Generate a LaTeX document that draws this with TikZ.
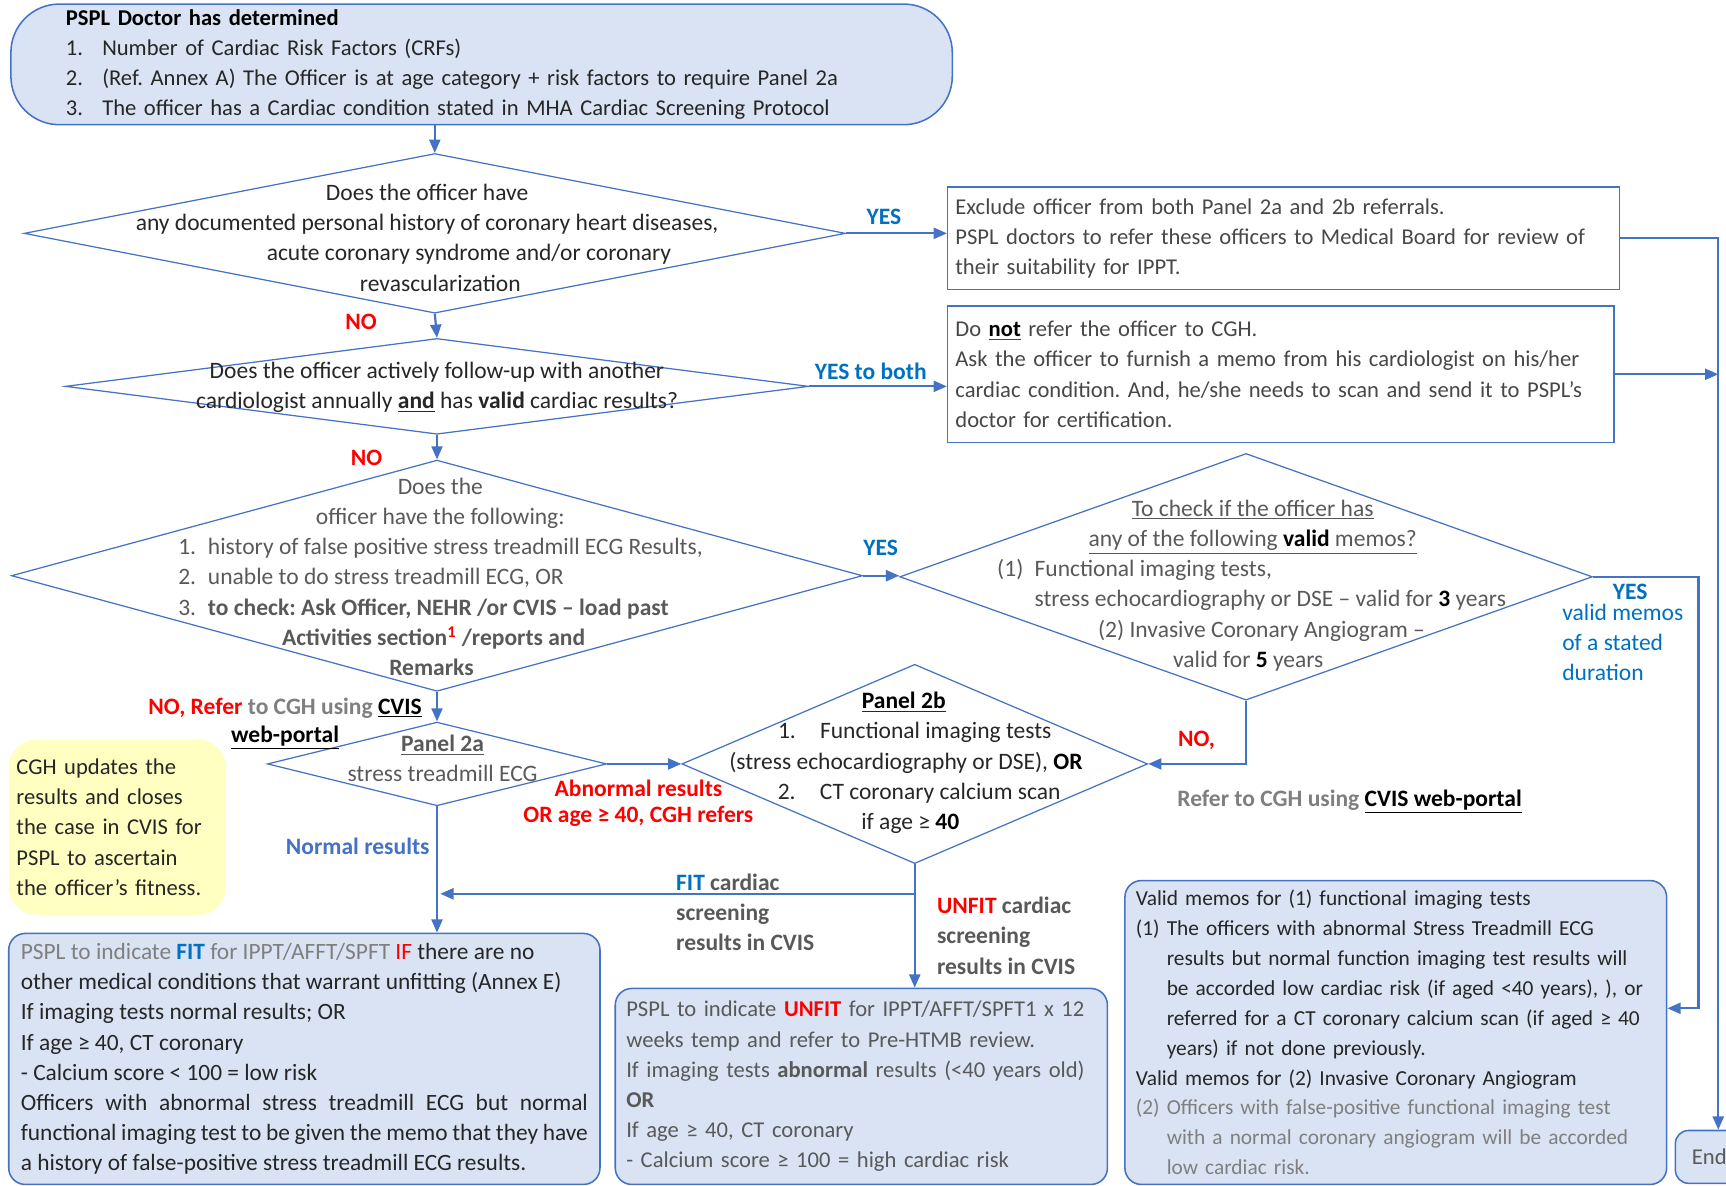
\documentclass[tikz,border=0pt]{standalone}
\usepackage{fontspec}
\setmainfont{Carlito}
\usetikzlibrary{arrows.meta,shapes.geometric,positioning}
\definecolor{flowblue}{HTML}{4472C4}
\definecolor{boxfill}{HTML}{DAE3F3}
\definecolor{notefill}{HTML}{FFFFC1}
\definecolor{yesblue}{HTML}{0070C0}
\definecolor{nored}{HTML}{FF0000}
\definecolor{txtdark}{HTML}{262626}
\definecolor{txtgray}{HTML}{595959}
\definecolor{txtlight}{HTML}{7F7F7F}
\newcommand\boxfont{\fontsize{14.6}{19.5}\selectfont}
\newcommand\memofont{\fontsize{13.8}{19.3}\selectfont}
\tikzset{
  flow/.style={draw=flowblue, line width=1.4pt, -{Triangle[length=0.3cm,width=0.25cm]}},
  dia/.style={draw=flowblue, line width=0.8pt, shape=diamond, inner sep=0pt},
  dtext/.style={inner sep=0pt, align=center},
  plainbox/.style={draw=flowblue, line width=1pt, align=left, text=txtdark, font=\boxfont},
  roundbox/.style={plainbox, fill=boxfill, rounded corners=0.375cm},
  notebox/.style={fill=notefill, rounded corners=0.625cm, align=left, text=txtdark, font=\boxfont},
  lbl/.style={inner sep=0pt, align=center},
}
\frenchspacing
\begin{document}
\begin{tikzpicture}[x=0.025cm, y=-0.025cm, font=\fontsize{15.2}{19.5}\selectfont]
	\useasboundingbox (0,0) rectangle (1568,1077);
	\clip (0,0) rectangle (1568,1077);
	\node[roundbox, rounded corners=1.1cm, minimum height=2.675cm, inner xsep=1.25cm, text width=18.875cm] (start) at (437.5,58.5) {\textbf{\color{black}PSPL Doctor has determined}\\
		\makebox[0.825cm][l]{1.}Number of Cardiac Risk Factors (CRFs)\\
		\makebox[0.825cm][l]{2.}(Ref. Annex A) The Officer is at age category + risk factors to require Panel 2a\\
		\makebox[0.825cm][l]{3.}The officer has a Cardiac condition stated in MHA Cardiac Screening Protocol};
	\node[dia, minimum width=18.65cm, minimum height=3.625cm] (d1) at (395,212) {};
	\node[dtext, text=txtdark] (d1text) at (388,216) {Does the officer have\\any documented personal history of coronary heart diseases,\\\hspace*{1.9cm}acute coronary syndrome and/or coronary\\\hspace*{0.6cm}revascularization};
	\node[plainbox, minimum height=2.325cm, inner xsep=0.175cm, text width=14.9cm, text=txtgray!80!black] (box1) at (1166,216.5) {Exclude officer from both Panel 2a and 2b referrals.\\
		PSPL doctors to refer these officers to Medical Board for review of\\
		their suitability for IPPT.};
	\node[dia, minimum width=16.875cm, minimum height=2.175cm] (d2) at (397,351) {};
	\node[dtext, text=txtdark] (d2text) at (397,352) {Does the officer actively follow-up with another\\cardiologist annually \underline{\textbf{and}} has \textbf{valid} cardiac results?};
	\node[plainbox, minimum height=3.1cm, inner xsep=0.175cm, text width=14.775cm, text=txtgray!80!black] (box2) at (1163.5,340) {Do \underline{\textbf{\color{black}not}} refer the officer to CGH.\\
		Ask the officer to furnish a memo from his cardiologist on his/her\\
		cardiac condition. And, he/she needs to scan and send it to PSPL's\\
		doctor for certification.};
	\node[dia, minimum width=19.325cm, minimum height=5.25cm] (d3) at (397,523) {};
	\node[dtext, text=txtgray] (d3text) at (400,524) {Does the\\officer have the following:\\
		\makebox[11.9cm][l]{\makebox[0.675cm][l]{1.}history of false positive stress treadmill ECG Results,}\\
		\makebox[11.9cm][l]{\makebox[0.675cm][l]{2.}unable to do stress treadmill ECG, OR}\\
		\makebox[11.9cm][l]{\makebox[0.675cm][l]{3.}\textbf{to check: Ask Officer, NEHR /or CVIS -- load past}}\\
		\hspace*{-0.3cm}\textbf{Activities section}\textsuperscript{\textbf{\color{nored}1}}\textbf{ /reports and}\\
		\hspace*{-0.4cm}\textbf{Remarks}};
	\node[dia, minimum width=15.725cm, minimum height=5.6cm] (d4) at (1132,524) {};
	\node[dtext, text=txtgray] (d4text) at (1138,532) {\underline{To check if the officer has}\\
		\underline{any of the following \textbf{\color{black}valid} memos?}\\
		\makebox[11.6cm][l]{\makebox[0.85cm][l]{(1)}Functional imaging tests,}\\
		\makebox[11.6cm][l]{\hspace{0.85cm}stress echocardiography or DSE -- valid for \textbf{\color{black}3} years}\\
		\hspace*{0.4cm}(2) Invasive Coronary Angiogram --\\
		\hspace*{-0.2cm}valid for \textbf{\color{black}5} years};
	\node[dia, minimum width=7.7cm, minimum height=1.9cm] (p2a) at (397,694) {};
	\node[dtext, text=txtgray] (p2atext) at (402,689) {\underline{\textbf{Panel 2a}}\\stress treadmill ECG};
	\node[dia, minimum width=10.575cm, minimum height=4.525cm] (d5) at (831,694) {};
	\node[dtext, text=txtdark] (d5text) at (823,693) {\hspace*{-0.1cm}\underline{\textbf{\color{black}Panel 2b}}\\
		\hspace*{0.4cm}1.\hspace{0.55cm}Functional imaging tests\\
		(stress echocardiography or DSE), \textbf{\color{black}OR}\\
		\hspace*{0.6cm}2.\hspace{0.55cm}CT coronary calcium scan\\
		\hspace*{0.2cm}if age ≥ \textbf{\color{black}40}};
	\node[notebox, minimum height=3.975cm, inner xsep=0.175cm, text width=4.575cm] (note) at (106.5,751.5) {CGH updates the\\results and closes\\the case in CVIS for\\PSPL to ascertain\\the officer’s fitness.};
	\node[roundbox, minimum height=5.7cm, inner xsep=0.275cm, text width=12.875cm, align=justify, font=\fontsize{15.1}{19.5}\selectfont] (fitbox) at (276.5,962) {{\color{txtlight}PSPL to indicate} \textbf{\color{yesblue}FIT} {\color{txtlight}for IPPT/AFFT/SPFT} {\color{nored}IF} there are no\\
		other medical conditions that warrant unfitting (Annex E)\\
		If imaging tests normal results; OR\\
		If age ≥ 40, CT coronary\\
		- Calcium score < 100 = low risk\\
		Officers with abnormal stress treadmill ECG but normal\linebreak
		functional imaging test to be given the memo that they have\linebreak
		a history of false-positive stress treadmill ECG results.};
	\node[roundbox, minimum height=4.45cm, inner xsep=0.25cm, text width=10.675cm, text=txtgray] (unfitbox) at (782.5,987) {PSPL to indicate \textbf{\color{nored}UNFIT} for IPPT/AFFT/SPFT1 x 12\\
		weeks temp and refer to Pre-HTMB review.\\
		If imaging tests \textbf{abnormal} results (<40 years old)\\
		\textbf{OR}\\
		If age ≥ 40, CT coronary\\
		- Calcium score ≥ 100 = high cardiac risk};
	\node[roundbox, minimum height=6.9cm, inner xsep=0.25cm, text width=11.8cm, font=\memofont] (memos) at (1268,938) {Valid memos for (1) functional imaging tests\\
		(1) The officers with abnormal Stress Treadmill ECG\\
		\hspace*{0.7cm}results but normal function imaging test results will\\
		\hspace*{0.7cm}be accorded low cardiac risk (if aged <40 years), ), or\\
		\hspace*{0.7cm}referred for a CT coronary calcium scan (if aged ≥ 40\\
		\hspace*{0.7cm}years) if not done previously.\\
		Valid memos for (2) Invasive Coronary Angiogram\\
		\color{txtlight}(2) Officers with false-positive functional imaging test\\
		\hspace*{0.7cm}with a normal coronary angiogram will be accorded\\
		\hspace*{0.7cm}low cardiac risk.};
	\node[roundbox, rounded corners=0.3cm, minimum height=1.2cm, inner xsep=0.375cm, text width=1.2cm, text=txtgray] (endbox) at (1561,1051) {End};
	\node[lbl, text=yesblue] (yes1) at (803,197) {\textbf{YES}};
	\node[lbl, text=nored] (no1) at (328,292) {\textbf{NO}};
	\node[lbl, text=yesblue] (yes2) at (791,337) {\textbf{YES to both}};
	\node[lbl, text=nored] (no2) at (333,416) {\textbf{NO}};
	\node[lbl, text=yesblue] (yes3) at (800,498) {\textbf{YES}};
	\node[lbl] (refer1) at (259,657) {\textbf{\color{nored}NO, Refer}\textbf{\color{txtlight}\ to CGH using\ }\underline{\textbf{CVIS}}\\[-0.05cm]\underline{\textbf{web-portal}}};
	\node[lbl, text=nored] (abnormal) at (580,730) {\textbf{Abnormal results}\\[-0.1cm]\textbf{OR age ≥ 40, CGH refers}};
	\node[lbl, text=flowblue] (normal) at (325,769) {\textbf{Normal results}};
	\node[lbl, anchor=west, align=left, text=txtgray] (fitlbl) at (614,829) {\textbf{\color{yesblue}FIT} \textbf{cardiac}\\\textbf{screening}\\\textbf{results in CVIS}};
	\node[lbl, anchor=west, align=left, text=txtgray] (unfitlbl) at (851,850) {\textbf{\color{nored}UNFIT} \textbf{cardiac}\\\textbf{screening}\\\textbf{results in CVIS}};
	\node[lbl, text=nored] (no3) at (1087,673) {\textbf{NO,}};
	\node[lbl] (refer2) at (1226,728) {\textbf{\color{txtlight}Refer to CGH using }\underline{\textbf{CVIS web-portal}}};
	\node[lbl, anchor=north west, align=left, text=yesblue] (yes4) at (1419,530) {\hspace*{1.15cm}\textbf{YES}\\[-0.2cm]valid memos\\of a stated\\duration};
	\coordinate (fitjoin) at (400,812);
	\coordinate (yesrail) at (1543,916);
	\draw[flow] (d1.north |- start.south) -- (d1.north);
	\draw[flow] (d1.east) -- (d1.east -| box1.west);
	\draw[flow] (d1.south) -- (d2.north);
	\draw[flow] (d2.east) -- (d2.east -| box2.west);
	\draw[flow] (d2.south) -- (d3.north);
	\draw[flow] (d3.east) -- (d3.east -| d4.west);
	\draw[flow] (d3.south) -- (p2a.north);
	\draw[flow] (p2a.east) -- (d5.west);
	\draw[flow] (p2a.south) -- (p2a.south |- fitbox.north);
	\draw[flow] (d4.south) |- (d5.east);
	\draw[flow] (d5.south) -- (d5.south |- unfitbox.north);
	\draw[flow] (d5.south) |- (fitjoin);
	\draw[flow] (box1.east) -| (endbox.north);
	\draw[flow] (box2.east) -- (box2.east -| endbox.north);
	\draw[flow] (d4.east) -| (yesrail) -- (yesrail -| memos.east);
\end{tikzpicture}
\end{document}
